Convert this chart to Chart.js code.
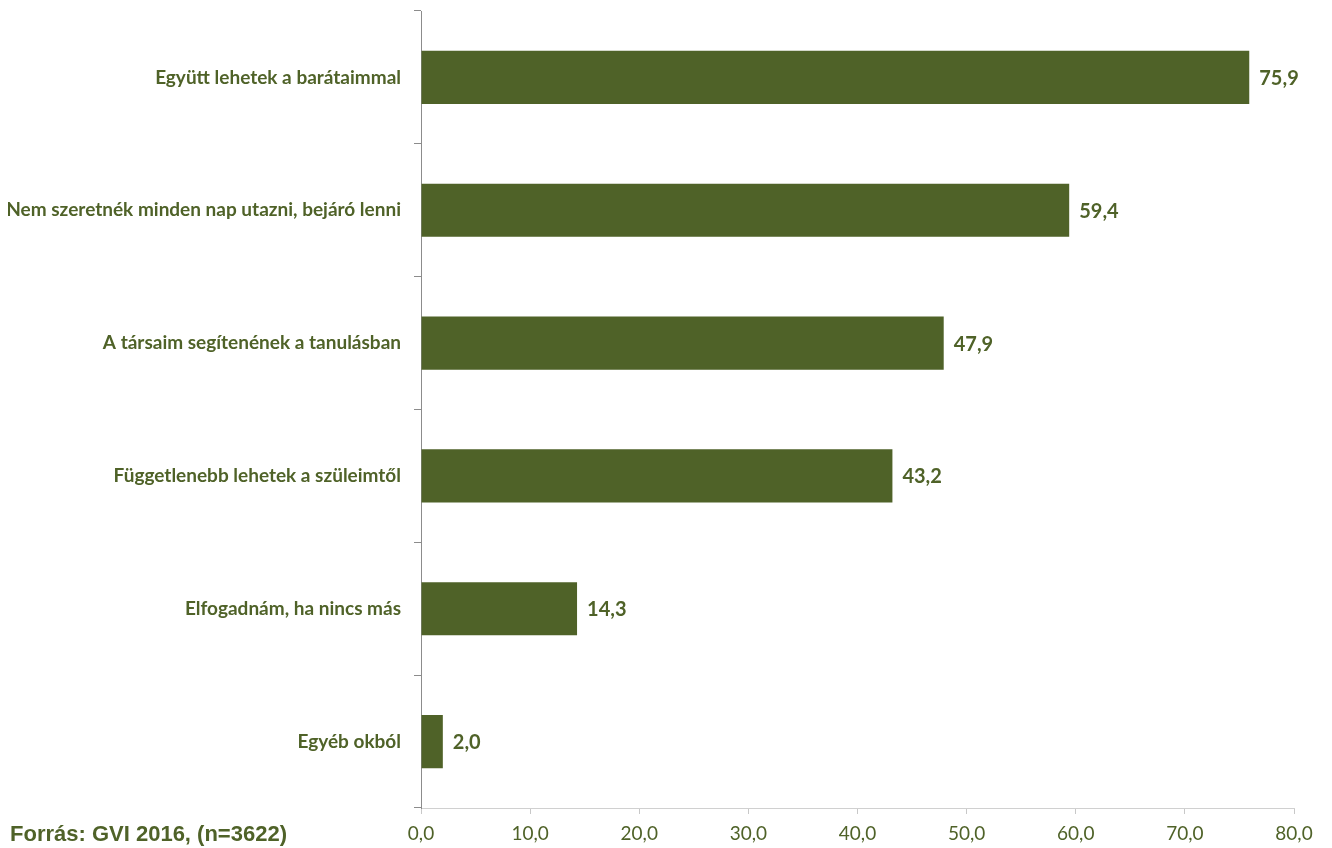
<!DOCTYPE html>
<html>
<head>
<meta charset="utf-8">
<script src="https://cdn.jsdelivr.net/npm/chart.js@4/dist/chart.umd.min.js"></script>
<style>
  body { margin: 0; background: #fff; }
  #wrap { position: relative; width: 1332px; height: 848px; }
  #forras {
    position: absolute; left: 10px; top: 821px;
    font-family: 'Liberation Sans', Arial, sans-serif; font-weight: bold;
    font-size: 22px; color: #4f6228;
  }
</style>
</head>
<body>
<div id="wrap">
  <canvas id="myChart" width="1332" height="848"></canvas>
  <div id="forras">Forrás: GVI 2016, (n=3622)</div>
</div>
<script>
// Adatok
var kategoriak = [
  'Együtt lehetek a barátaimmal',
  'Nem szeretnék minden nap utazni, bejáró lenni',
  'A társaim segítenének a tanulásban',
  'Függetlenebb lehetek a szüleimtől',
  'Elfogadnám, ha nincs más',
  'Egyéb okból'
];
var ertekek = [75.9, 59.4, 47.9, 43.2, 14.3, 2.0];
var xTickek = [0, 10, 20, 30, 40, 50, 60, 70, 80];

var zold = '#4f6228';
var betu = "Lato, 'Open Sans', sans-serif";

function szam(v) {
  return v.toFixed(1).replace('.', ',');
}

// Értékek kiírása a sávok mellé
var cimkek = {
  id: 'cimkek',
  afterDatasetsDraw: function (chart) {
    var ctx = chart.ctx;
    var meta = chart.getDatasetMeta(0);
    ctx.save();
    ctx.font = 'bold 20px ' + betu;
    ctx.fillStyle = zold;
    ctx.textBaseline = 'middle';
    meta.data.forEach(function (bar, i) {
      ctx.fillText(szam(ertekek[i]), bar.x + 10, bar.y + 1);
    });
    ctx.restore();
  }
};

var ctx = document.getElementById('myChart').getContext('2d');
var myChart = new Chart(ctx, {
  type: 'bar',
  data: {
    labels: kategoriak,
    datasets: [{
      data: ertekek,
      backgroundColor: zold,
      borderWidth: 0,
      barPercentage: 0.4,
      categoryPercentage: 1.0
    }]
  },
  options: {
    indexAxis: 'y',
    responsive: false,
    animation: false,
    layout: { padding: { left: 8, right: 38, top: 0, bottom: 0 } },
    plugins: {
      legend: { display: false },
      tooltip: { enabled: false }
    },
    scales: {
      x: {
        min: 0,
        max: 80,
        afterBuildTicks: function (scale) {
          scale.ticks = xTickek.map(function (v) { return { value: v }; });
        },
        afterFit: function (scale) { scale.height = 40; },
        border: { color: '#d0d0d0', width: 1 },
        grid: { drawOnChartArea: false, tickLength: 6, color: '#c8c8c8' },
        ticks: {
          color: zold,
          padding: 8,
          font: { family: betu, size: 19 },
          callback: function (v) { return szam(v); }
        }
      },
      y: {
        afterFit: function (scale) {
          scale.width = 413;
          scale.paddingTop = 11;
          scale.paddingBottom = 0;
        },
        border: { color: '#8c8c8c', width: 1 },
        grid: { drawOnChartArea: false, tickLength: 7, color: '#8c8c8c', offset: true },
        ticks: {
          color: zold,
          padding: 13,
          font: { family: betu, size: 19, weight: 'bold' }
        }
      }
    }
  },
  plugins: [cimkek]
});
</script>
</body>
</html>
